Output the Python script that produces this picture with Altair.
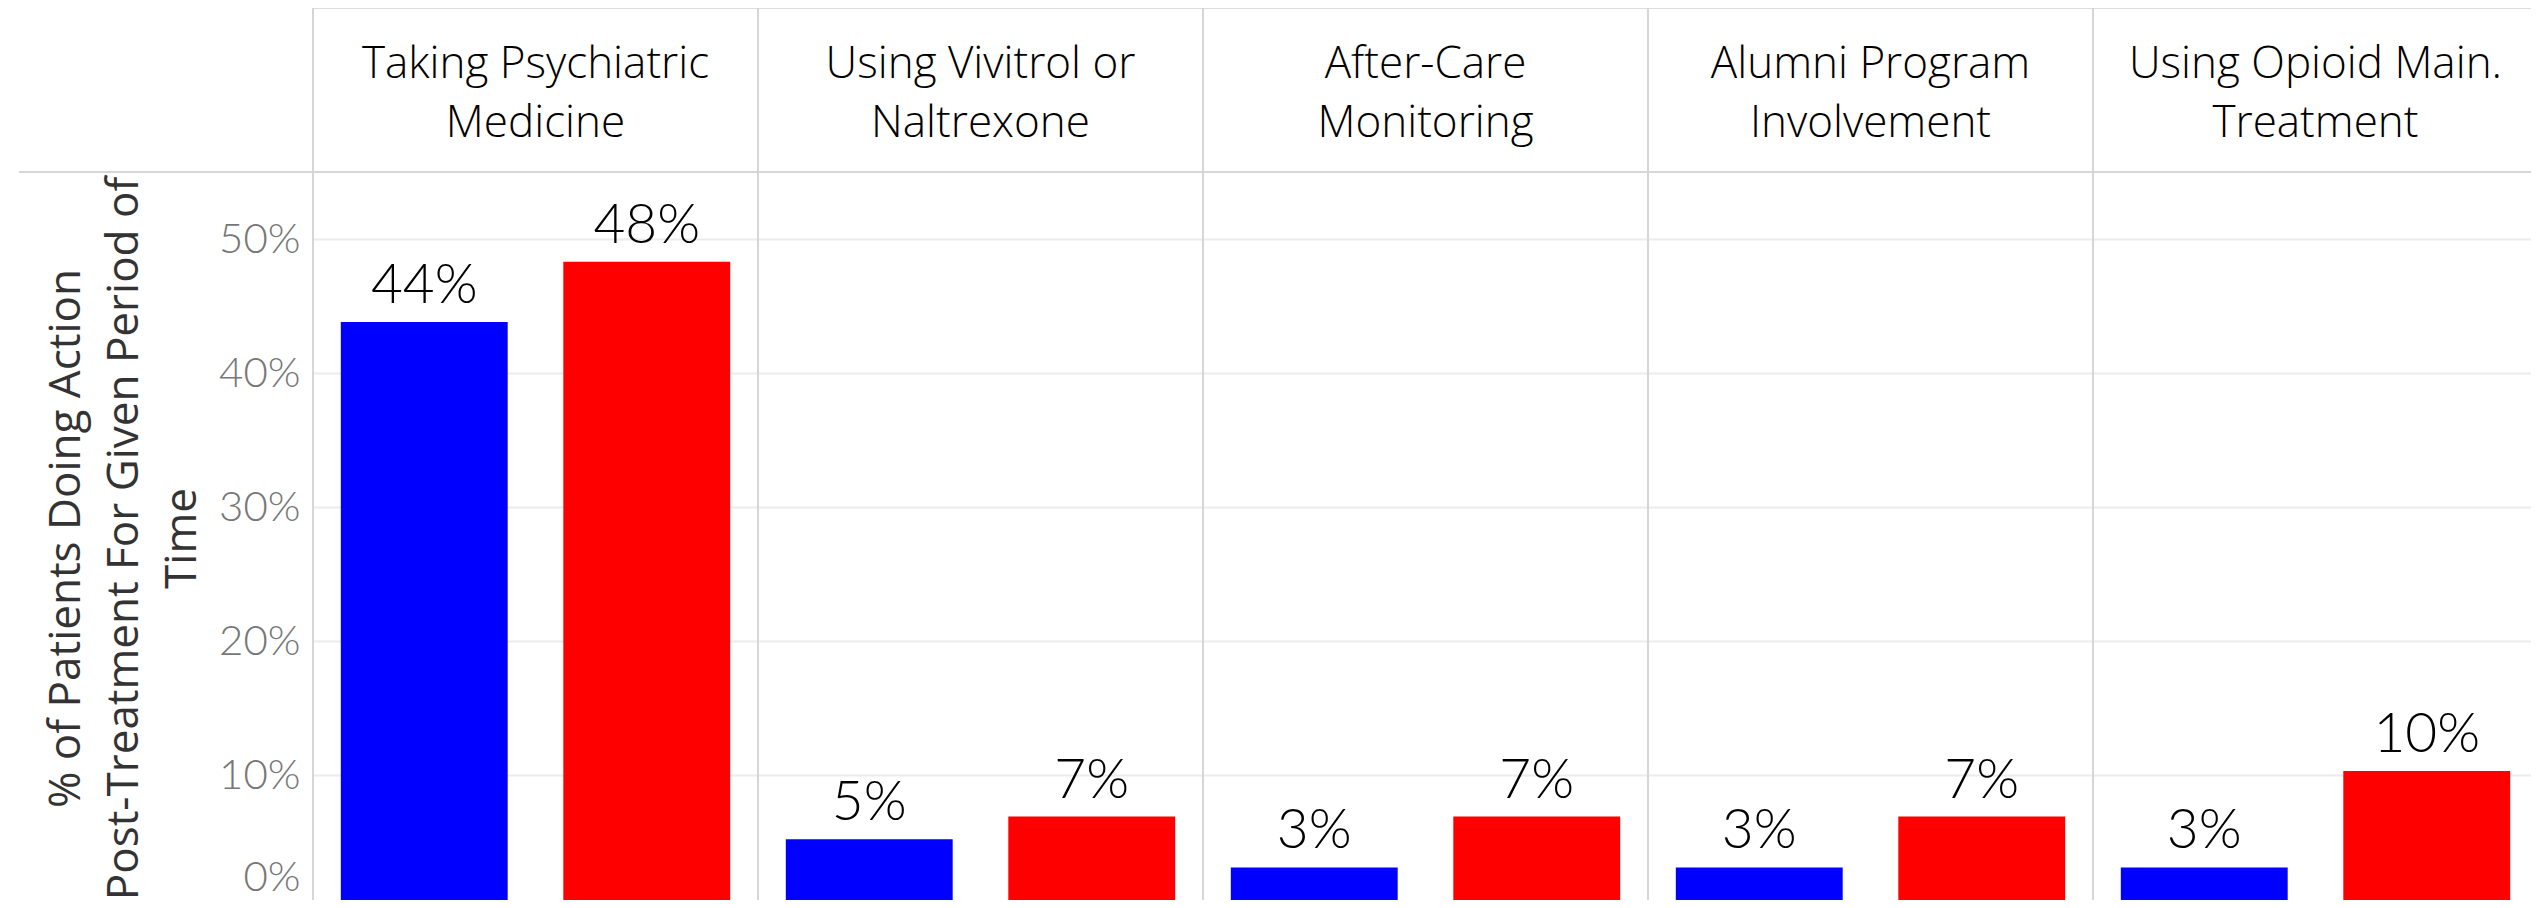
import altair as alt
import pandas as pd

# ---- data ----
categories = [
    "Taking Psychiatric Medicine",
    "Using Vivitrol or Naltrexone",
    "After-Care Monitoring",
    "Alumni Program Involvement",
    "Using Opioid Main. Treatment",
]
header_labels = [
    "Taking Psychiatric\nMedicine",
    "Using Vivitrol or\nNaltrexone",
    "After-Care\nMonitoring",
    "Alumni Program\nInvolvement",
    "Using Opioid Main.\nTreatment",
]
groups = ["Group 1", "Group 2"]
group1_values = [0.438, 0.052, 0.031, 0.031, 0.031]
group2_values = [0.483, 0.069, 0.069, 0.069, 0.103]
group_colors = ["#0000ff", "#ff0000"]
y_ticks = [0, 0.1, 0.2, 0.3, 0.4, 0.5]
y_title = ["% of Patients Doing Action", "Post-Treatment For Given Period of", "Time"]

# ---- layout constants ----
VIEW_W = 2218          # visible drawing width (page is cropped on the right)
VIEW_H = 892           # visible drawing height (page is cropped at the bottom)
X_RANGE = 2225         # five panels of 445 px, the last one runs off the page
Y_RANGE = 901          # zero sits just below the visible area, as in the reference
Y_TOP = 0.6724         # value at the very top of the drawing (header top)
HEADER_LINE = 0.55     # value where the header separator sits
HEADER_Y = 0.6201      # value at the first header line's baseline
SEP_COLOR = "#d6d6d6"
LABEL_FONT = "Lato"
HEADER_FONT = "Open Sans"
TITLE_FONT = "Open Sans"

rows = []
for c, a, b in zip(categories, group1_values, group2_values):
    rows.append({"category": c, "group": groups[0], "value": a})
    rows.append({"category": c, "group": groups[1], "value": b})
bars_df = pd.DataFrame(rows)
header_df = pd.DataFrame({"category": categories, "header": header_labels})
line_df = pd.DataFrame({"line": [HEADER_LINE]})

x_enc = alt.X(
    "category:N",
    sort=categories,
    scale=alt.Scale(paddingInner=0, paddingOuter=0, range=[0, X_RANGE]),
    axis=None,
)
xoff_enc = alt.XOffset(
    "group:N",
    sort=groups,
    scale=alt.Scale(paddingInner=0.25, paddingOuter=0.125),
)
y_scale = alt.Scale(domain=[0, Y_TOP], nice=False, zero=True, range=[Y_RANGE, 0])

bars = alt.Chart(bars_df).mark_bar().encode(
    x=x_enc,
    xOffset=xoff_enc,
    y=alt.Y(
        "value:Q",
        scale=y_scale,
        axis=alt.Axis(
            values=y_ticks,
            format=".0%",
            domain=False,
            ticks=False,
            labelPadding=13,
            labelFont=LABEL_FONT,
            labelFontSize=42,
            labelFontWeight=300,
            labelColor="#777777",
            labelFlush=True,
            labelFlushOffset=-10,
            grid=True,
            gridColor="#ececec",
            gridWidth=2,
            title=y_title,
            titleFont=TITLE_FONT,
            titleFontSize=44,
            titleFontWeight="normal",
            titleColor="#333333",
            titleLineHeight=58,
            titleBaseline="top",
            titleAlign="center",
            titleX=-269,
            titleY=530,
        ),
    ),
    color=alt.Color(
        "group:N",
        scale=alt.Scale(domain=groups, range=group_colors),
        legend=None,
    ),
)

bar_labels = alt.Chart(bars_df).mark_text(
    baseline="alphabetic",
    dy=-19,
    font=LABEL_FONT,
    fontSize=55,
    fontWeight=300,
    color="#000000",
).encode(
    x=x_enc,
    xOffset=xoff_enc,
    y=alt.Y("value:Q"),
    text=alt.Text("value:Q", format=".0%"),
)

separators = alt.Chart(header_df).mark_rule(color=SEP_COLOR, strokeWidth=2).encode(
    x=alt.X("category:N", sort=categories, bandPosition=0),
    y=alt.datum(Y_TOP),
    y2=alt.datum(0),
)

header_line = alt.Chart(line_df).mark_rule(color=SEP_COLOR, strokeWidth=2).encode(
    x=alt.value(-294),
    x2=alt.value(X_RANGE),
    y=alt.Y("line:Q"),
)

headers = alt.Chart(header_df).mark_text(
    font=HEADER_FONT,
    fontSize=44,
    fontWeight=300,
    lineBreak="\n",
    lineHeight=59,
    baseline="alphabetic",
    align="center",
    color="#000000",
).encode(
    x=alt.X("category:N", sort=categories),
    y=alt.datum(HEADER_Y),
    text="header:N",
)

chart = (
    alt.layer(bars, bar_labels, separators, header_line, headers)
    .properties(
        width=VIEW_W,
        height=VIEW_H,
        autosize=alt.AutoSizeParams(type="none"),
        padding={"left": 305, "top": 0, "right": 0, "bottom": 0},
    )
    .configure_view(strokeWidth=0)
    .configure(background="white")
)

chart.save("out.html", embed_options={"renderer": "svg", "actions": False})
